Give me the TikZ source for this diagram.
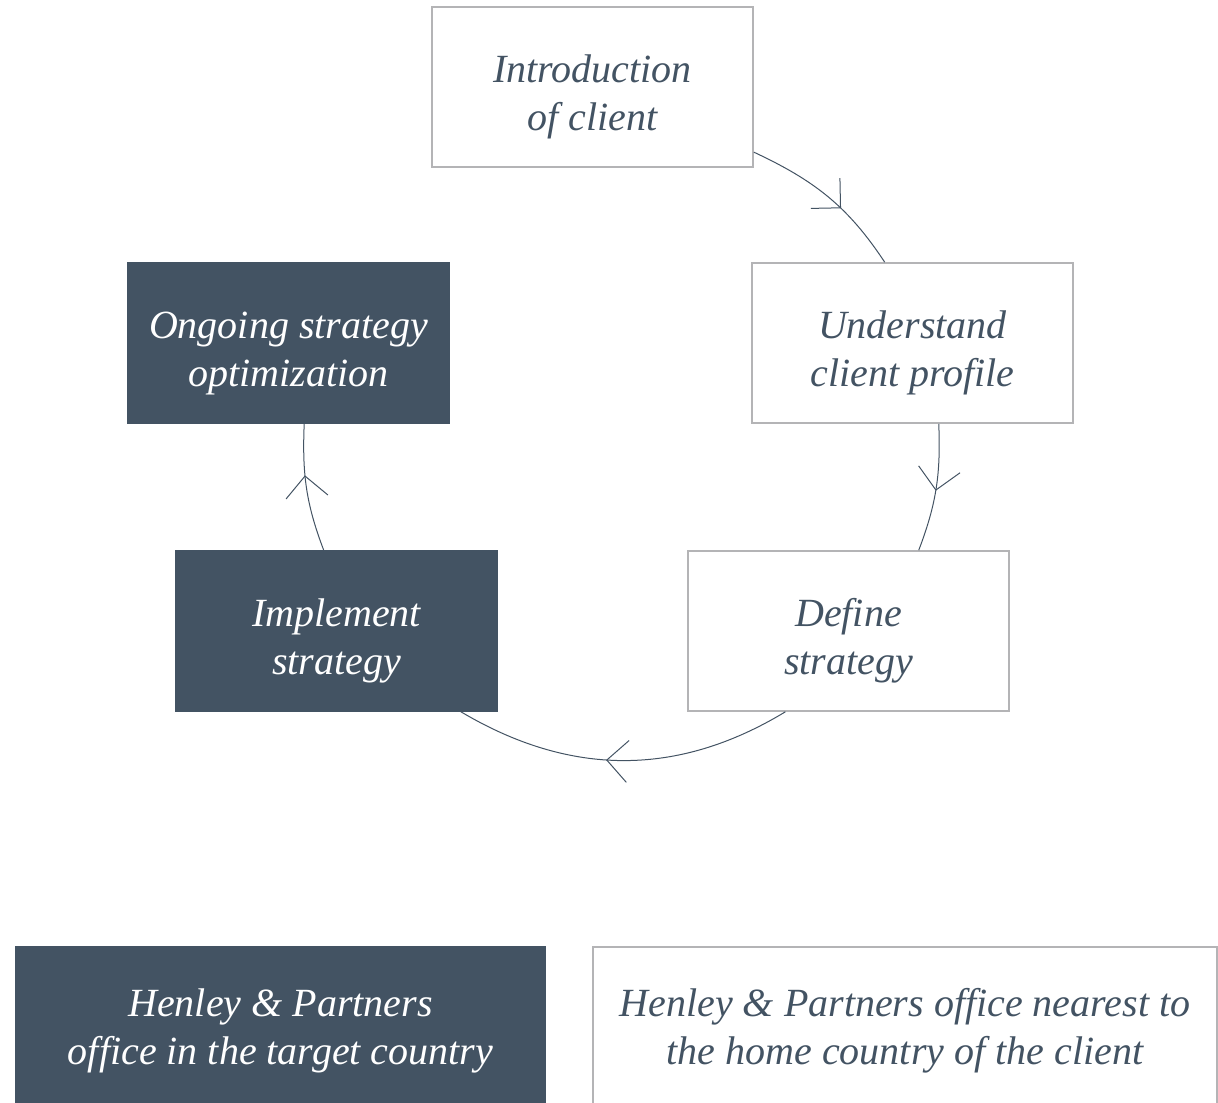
\documentclass[tikz,border=0pt]{standalone}
\usepackage{fontspec}
\setmainfont{Liberation Serif}
\usetikzlibrary{arrows.meta,decorations.markings}
\definecolor{hpslate}{RGB}{67,83,99}
\definecolor{hpgrey}{RGB}{180,180,182}
\newcommand{\lift}[1]{\rule{0pt}{#1}}

\begin{document}
\begin{tikzpicture}[x=0.5pt,y=0.5pt,
    stage/.style={draw=hpgrey,line width=0.8pt,fill=white,text=hpslate,minimum width=160.5pt,minimum height=80pt,inner sep=0pt,align=center,font=\fontsize{20}{24}\selectfont\itshape},
    office/.style={stage,minimum height=81.5pt},
    dark/.style={draw=hpslate,fill=hpslate,text=white},
    cycle/.style={draw=hpslate,line width=0.5pt,decoration={markings,mark=at position #1 with {\arrow{Straight Barb[length=10.5pt,width=21pt]}}},postaction={decorate}},
    cycle/.default=0.5]
    \useasboundingbox (0,0) rectangle (1218,1102);
    \clip (0,0) rectangle (1218,1102);
    \node[stage] (intro) at (592.5,1015) {\lift{24pt}Introduction\\of client};
    \node[stage] (profile) at (912.5,759) {\lift{24pt}Understand\\client profile};
    \node[stage] (define) at (848.5,471) {\lift{24pt}Define\\strategy};
    \node[stage,dark] (implement) at (336.5,471) {\lift{24pt}Implement\\strategy};
    \node[stage,dark] (optimize) at (288.5,759) {\lift{24pt}Ongoing strategy\\optimization};
    % legend
    \node[office,dark,minimum width=264.5pt] (target) at (280.5,73.5) {\lift{16pt}Henley \& Partners\\office in the target country};
    \node[office,minimum width=312pt] (home) at (905,73.5) {\lift{16pt}Henley \& Partners office nearest to\\the home country of the client};
    % cycle
    \draw[cycle=0.6] (intro.-22) to[out=-25,in=123.4] (profile.109);
    \draw[cycle=0.52] (profile.-72.3) to[out=-87.7,in=69.2] (define.49);
    \draw[cycle=0.55] (define.-128) to[out=-148.8,in=-30.7] (implement.-33.6);
    \draw[cycle=0.6] (implement.99.6) to[out=110.8,in=267.6] (optimize.-79);
\end{tikzpicture}
\end{document}
